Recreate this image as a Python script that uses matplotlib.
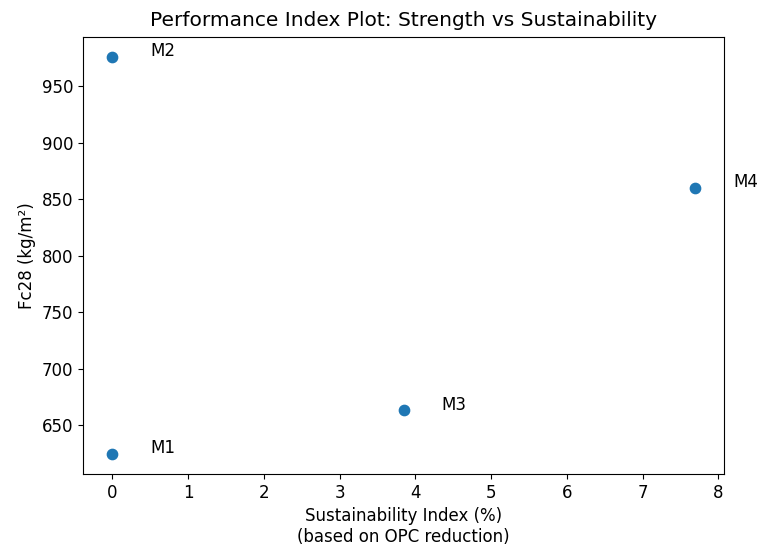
import matplotlib.pyplot as plt

# mix labels, sustainability index (% OPC reduction) and 28-day strength
mixes = ['M1', 'M2', 'M3', 'M4']
sustainability = [0.0, 0.0, 3.846, 7.692]
fc28 = [624.5, 975.8, 663.0, 860.0]

fig, ax = plt.subplots(figsize=(7.64, 5.44), dpi=100)
fig.subplots_adjust(left=0.109, right=0.948, top=0.932, bottom=0.129)

ax.scatter(sustainability, fc28, s=55)

for i, label in enumerate(mixes):
    ax.text(sustainability[i] + 0.5, fc28[i] + 5, label, fontsize=12, va='center')

ax.set_xlabel('Sustainability Index (%)\n(based on OPC reduction)', fontsize=12)
ax.set_ylabel('Fc28 (kg/m²)', fontsize=12)
ax.set_title('Performance Index Plot: Strength vs Sustainability', fontsize=14.5, pad=8)
ax.tick_params(labelsize=12)

fig.savefig('out.png', dpi=100)
